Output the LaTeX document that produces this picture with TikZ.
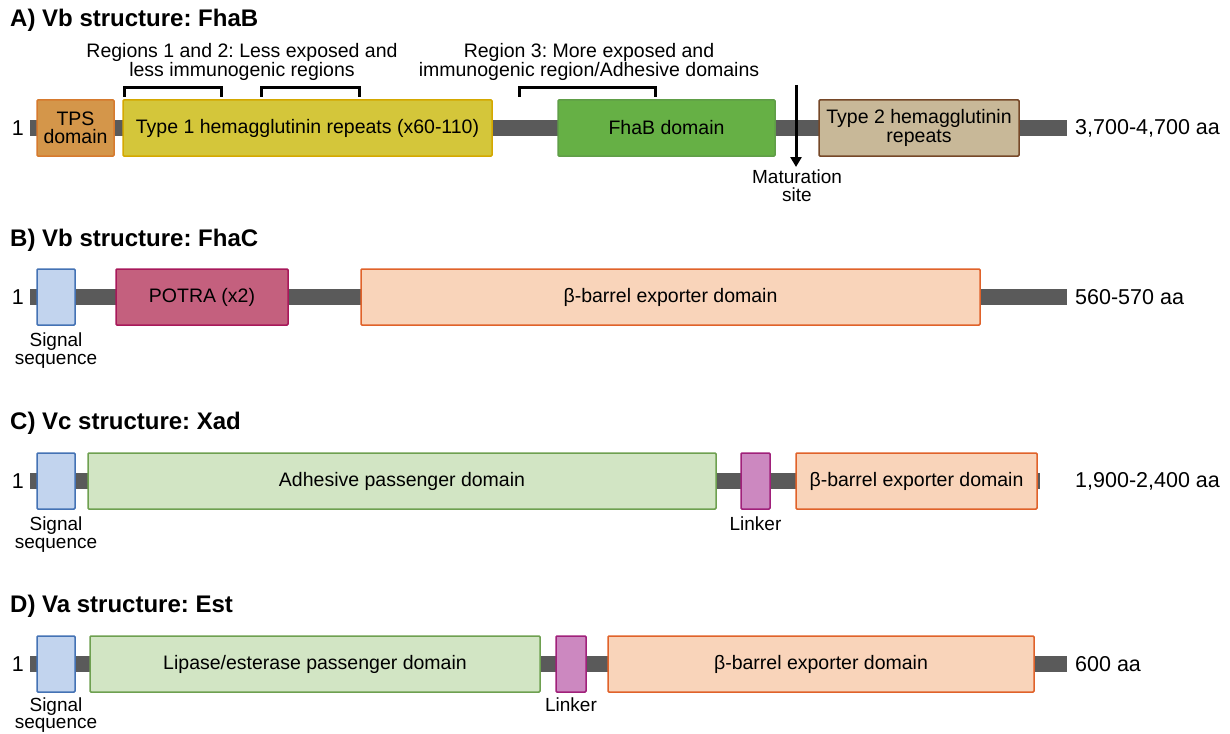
\documentclass[tikz,border=0pt]{standalone}
\usepackage{fontspec}
\setmainfont{Liberation Sans}
\usetikzlibrary{arrows.meta,positioning}
\tikzset{
  dom/.style = {rectangle, draw, line width=1.5pt, rounded corners=1pt,
    minimum height=56pt, inner sep=0pt, align=center,
    font=\fontsize{19.5}{18.5}\selectfont},% domain box
  chain/.style = {line width=16pt, draw={rgb,255:red,90;green,90;blue,90}},% backbone
  title/.style = {anchor=west, inner sep=0pt, font=\fontsize{24}{24}\selectfont\bfseries},
  note/.style = {inner sep=0pt, align=center, font=\fontsize{19}{18}\selectfont},
  head/.style = {inner sep=0pt, align=center, font=\fontsize{19.5}{18.5}\selectfont},
  ends/.style = {inner sep=0pt, font=\fontsize{21.5}{22}\selectfont},
  bracket/.style = {line width=3pt, draw=black}
}
\definecolor{tpsF}{RGB}{212,150,74}   \definecolor{tpsD}{RGB}{214,122,46}
\definecolor{ty1F}{RGB}{212,198,58}   \definecolor{ty1D}{RGB}{212,168,0}
\definecolor{fhaF}{RGB}{102,176,69}   \definecolor{fhaD}{RGB}{96,158,72}
\definecolor{ty2F}{RGB}{200,184,152}  \definecolor{ty2D}{RGB}{118,72,40}
\definecolor{sigF}{RGB}{194,212,238}  \definecolor{sigD}{RGB}{68,114,180}
\definecolor{potF}{RGB}{196,96,126}   \definecolor{potD}{RGB}{168,24,90}
\definecolor{barF}{RGB}{249,212,186}  \definecolor{barD}{RGB}{224,98,42}
\definecolor{pasF}{RGB}{210,229,196}  \definecolor{pasD}{RGB}{110,160,80}
\definecolor{lnkF}{RGB}{204,136,192}  \definecolor{lnkD}{RGB}{160,32,122}
\frenchspacing
\begin{document}
\begin{tikzpicture}[x=1pt,y=-1pt]
  \useasboundingbox (0,0) rectangle (1230,733);
  % A) FhaB
  \node [title] (tA) at (10,20) {A) Vb structure: FhaB};
  \coordinate (A0) at (30,128); \coordinate (A1) at (1067,128);
  \draw [chain] (A0) -- (A1);
  \node [ends, anchor=east] (A1n) at (24,128) {1};
  \node [ends, anchor=west] (Aaa) at (1075,128) {3,700-4,700 aa};
  \node [dom, minimum width=77pt, fill=tpsF, draw=tpsD] (tps) at (75.5,128) {TPS\\domain};
  \node [dom, minimum width=369pt, fill=ty1F, draw=ty1D] (ty1) at (307.5,128) {Type 1 hemagglutinin repeats (x60-110)};
  \node [dom, minimum width=217pt, fill=fhaF, draw=fhaD] (fha) at (666.5,128) {FhaB domain};
  \node [dom, minimum width=200pt, fill=ty2F, draw=ty2D] (ty2) at (919,128) {Type 2 hemagglutinin\\repeats};
  \node [head] (r12) at (242,62) {Regions 1 and 2: Less exposed and\\less immunogenic regions};
  \node [head] (r3) at (589,62) {Region 3: More exposed and\\immunogenic region/Adhesive domains};
  \draw [bracket] (124,97) -- (124,88) -- (221,88) -- (221,97);
  \draw [bracket] (261,97) -- (261,88) -- (359,88) -- (359,97);
  \draw [bracket] (519,97) -- (519,88) -- (655,88) -- (655,97);
  \node [note] (mat) at (797,186) {Maturation\\site};
  \coordinate (matTop) at (796,85);
  \draw [line width=3pt, -{Triangle[length=10pt,width=11pt]}] (matTop) -- (796,167);
  % B) FhaC
  \node [title] (tB) at (10,240) {B) Vb structure: FhaC};
  \coordinate (B0) at (30,297); \coordinate (B1) at (1067,297);
  \draw [chain] (B0) -- (B1);
  \node [ends, anchor=east] (B1n) at (24,297) {1};
  \node [ends, anchor=west] (Baa) at (1075,297) {560-570 aa};
  \node [dom, minimum width=38pt, fill=sigF, draw=sigD] (sigB) at (56,297) {};
  \node [dom, minimum width=172pt, fill=potF, draw=potD] (pot) at (202,297) {POTRA (x2)};
  \node [dom, minimum width=619pt, fill=barF, draw=barD] (barB) at (670.5,297) {β-barrel exporter domain};
  \node [note, below=7pt of sigB] (sigBn) {Signal\\sequence};
  % C) Xad
  \node [title] (tC) at (10,423) {C) Vc structure: Xad};
  \coordinate (C0) at (30,481); \coordinate (C1) at (1040,481);
  \draw [chain] (C0) -- (C1);
  \node [ends, anchor=east] (C1n) at (24,481) {1};
  \node [ends, anchor=west] (Caa) at (1075,481) {1,900-2,400 aa};
  \node [dom, minimum width=38pt, fill=sigF, draw=sigD] (sigC) at (56,481) {};
  \node [dom, minimum width=628pt, fill=pasF, draw=pasD] (adh) at (402,481) {Adhesive passenger domain};
  \node [dom, minimum width=29pt, fill=lnkF, draw=lnkD] (lnkC) at (755.5,481) {};
  \node [dom, minimum width=241pt, fill=barF, draw=barD] (barC) at (916.5,481) {β-barrel exporter domain};
  \node [note, below=7pt of sigC] (sigCn) {Signal\\sequence};
  \node [note, below=7pt of lnkC] (lnkCn) {Linker};
  % D) Est
  \node [title] (tD) at (10,606) {D) Va structure: Est};
  \coordinate (D0) at (30,664); \coordinate (D1) at (1067,664);
  \draw [chain] (D0) -- (D1);
  \node [ends, anchor=east] (D1n) at (24,664) {1};
  \node [ends, anchor=west] (Daa) at (1075,664) {600 aa};
  \node [dom, minimum width=38pt, fill=sigF, draw=sigD] (sigD) at (56,664) {};
  \node [dom, minimum width=450pt, fill=pasF, draw=pasD] (lip) at (315,664) {Lipase/esterase passenger domain};
  \node [dom, minimum width=30pt, fill=lnkF, draw=lnkD] (lnkD) at (571,664) {};
  \node [dom, minimum width=426pt, fill=barF, draw=barD] (barD) at (821,664) {β-barrel exporter domain};
  \node [note, below=5pt of sigD, font=\fontsize{19}{17}\selectfont] (sigDn) {Signal\\sequence};
  \node [note, below=5pt of lnkD] (lnkDn) {Linker};
\end{tikzpicture}
\end{document}
